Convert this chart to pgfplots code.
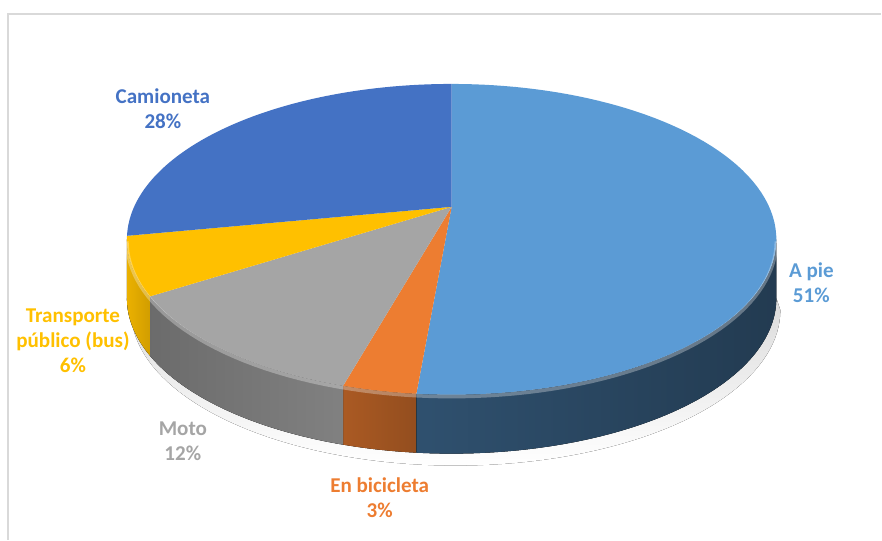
\documentclass[border=0pt]{standalone}
\usepackage{pgfplots}
\pgfplotsset{compat=1.18}
\usepgfplotslibrary{fillbetween}
\usepackage{fontspec}
\setmainfont{Carlito}
\definecolor{cApie}{HTML}{5B9BD5}
\definecolor{cBici}{HTML}{ED7D31}
\definecolor{cMoto}{HTML}{A5A5A5}
\definecolor{cBus}{HTML}{FFC000}
\definecolor{cCam}{HTML}{4472C4}
% data (percent; labels show rounded values)
\def\pApie{51.4}
\def\pBici{3.0}
\def\pMoto{11.6}
\def\pBus{6.0}
\def\pCam{28.0}
\pgfmathsetmacro\aA{90}
\pgfmathsetmacro\aB{\aA-3.6*\pApie}
\pgfmathsetmacro\aC{\aB-3.6*\pBici}
\pgfmathsetmacro\aD{\aC-3.6*\pMoto}
\pgfmathsetmacro\aE{\aD-3.6*\pBus}
\pgfmathsetmacro\aF{\aE-3.6*\pCam}
\pgfmathsetmacro\sR{-asin(0.209)}
\pgfmathsetmacro\sL{-180+asin(0.209)}
\begin{document}
\begin{tikzpicture}
\begin{axis}[scale only axis, width=17.64cm, height=10.8cm,
  xmin=0, xmax=882, ymin=0, ymax=540, hide axis, clip=false,
  samples=80,
  declare function={px(\t)=452+317.8*cos(\t)/(1+0.209*sin(\t));
                    py(\t)=333+148.7*sin(\t)/(1+0.209*sin(\t));
                    dep=59;}]
\path (rel axis cs:0,0) rectangle (rel axis cs:1,1);
\draw[black!15, line width=0.8pt] (axis cs:8,0) -- (axis cs:8,526) -- (axis cs:882,526);
% shadow under pie
\addplot[draw=none, name path=shA, domain=\sL:\sR, variable=\t] ({px(\t)},{py(\t)-dep});
\addplot[draw=none, name path=shB, domain=\sL:\sR, variable=\t] ({px(\t)+4},{py(\t)-dep-12});
\addplot[top color=black!14, bottom color=white] fill between[of=shA and shB];
% sides
\addplot[draw=none, name path=tA, domain=\aB:\sR, variable=\t] ({px(\t)},{py(\t)});
\addplot[draw=none, name path=bA, domain=\aB:\sR, variable=\t] ({px(\t)},{py(\t)-dep});
\addplot[left color=cApie!52!black, right color=cApie!38!black] fill between[of=tA and bA];
\addplot[draw=none, name path=tB, domain=\aC:\aB, variable=\t] ({px(\t)},{py(\t)});
\addplot[draw=none, name path=bB, domain=\aC:\aB, variable=\t] ({px(\t)},{py(\t)-dep});
\addplot[left color=cBici!72!black, right color=cBici!62!black] fill between[of=tB and bB];
\addplot[draw=none, name path=tC, domain=\aD:\aC, variable=\t] ({px(\t)},{py(\t)});
\addplot[draw=none, name path=bC, domain=\aD:\aC, variable=\t] ({px(\t)},{py(\t)-dep});
\addplot[left color=cMoto!65!black, right color=cMoto!78!black] fill between[of=tC and bC];
\addplot[draw=none, name path=tD, domain=\sL:\aD, variable=\t] ({px(\t)},{py(\t)});
\addplot[draw=none, name path=bD, domain=\sL:\aD, variable=\t] ({px(\t)},{py(\t)-dep});
\addplot[left color=cBus!92!black, right color=cBus!82!black] fill between[of=tD and bD];
% top faces
\addplot[fill=cApie, draw=none, domain=\aB:\aA, variable=\t] ({px(\t)},{py(\t)}) -- (axis cs:452,333) -- cycle;
\addplot[fill=cBici, draw=none, domain=\aC:\aB, variable=\t] ({px(\t)},{py(\t)}) -- (axis cs:452,333) -- cycle;
\addplot[fill=cMoto, draw=none, domain=\aD:\aC, variable=\t] ({px(\t)},{py(\t)}) -- (axis cs:452,333) -- cycle;
\addplot[fill=cBus, draw=none, domain=\aE:\aD, variable=\t] ({px(\t)},{py(\t)}) -- (axis cs:452,333) -- cycle;
\addplot[fill=cCam, draw=none, domain=\aF:\aE, variable=\t] ({px(\t)},{py(\t)}) -- (axis cs:452,333) -- cycle;
% rim highlight
\addplot[white, opacity=0.3, line width=2pt, domain=\sL:\sR, variable=\t] ({px(\t)},{py(\t)-2});
% labels
\begin{scope}[every node/.style={font=\fontsize{12}{14.2}\selectfont\bfseries, align=center}]
\node[text=cCam] at (axis cs:163,431.5) {Camioneta\\28\%};
\node[text=cApie] at (axis cs:812,257) {A pie\\51\%};
\node[text=cBus] at (axis cs:73,199) {Transporte\\público (bus)\\6\%};
\node[text=cMoto] at (axis cs:183,98.5) {Moto\\12\%};
\node[text=cBici] at (axis cs:380,41.5) {En bicicleta\\3\%};
\end{scope}
\end{axis}
\end{tikzpicture}
\end{document}
